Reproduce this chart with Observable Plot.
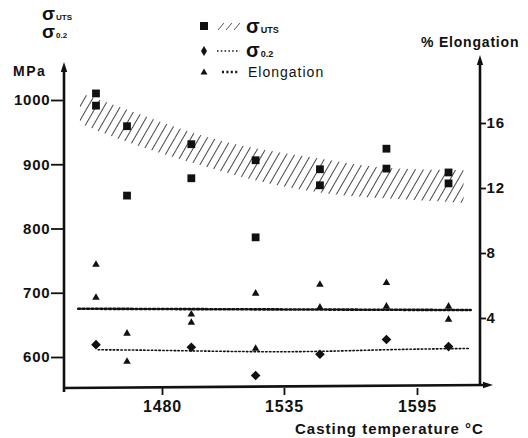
<!DOCTYPE html>
<html><head><meta charset="utf-8">
<script src="https://cdn.jsdelivr.net/npm/d3@7"></script>
<script src="https://cdn.jsdelivr.net/npm/@observablehq/plot@0.6"></script>
<style>
body{margin:0;background:#fff;}
#wrap{position:relative;width:528px;height:438px;font-family:"Liberation Sans",Arial,sans-serif;color:#111;}
#wrap svg{position:absolute;left:0;top:0;}
#wrap text{letter-spacing:0.8px;}
</style></head><body><div id="wrap"></div>
<script>
// ---- data ----
const temps      = [1450, 1464, 1493, 1522, 1551, 1581, 1609];
const utsHigh    = [1011, 960, 932, 907, 893, 925, 888];
const utsLow     = [992, 852, 879, 787, 868, 894, 871];
const yieldTemps = [1450, 1493, 1522, 1551, 1581, 1609];
const yieldVals  = [620, 616, 572, 605, 628, 617];
const elongHigh  = [7.32, 3.08, 4.25, 5.54, 6.09, 6.2, 4.74];
const elongLow   = [5.29, 1.35, 3.75, 2.15, 4.68, 4.74, 3.94];
const bandTemps  = [1443, 1465, 1493, 1522, 1551, 1580, 1616];
const bandUpper  = [1011, 984, 950, 925, 909, 895, 891];
const bandLower  = [964, 934, 903, 875, 856, 847, 840];
const yieldFitTemps = [1451, 1480, 1535, 1580, 1618];
const yieldFitVals  = [612, 611, 609, 612, 614];
const elongFitTemps = [1442, 1619];
const elongFitVals  = [4.6, 4.52];
const xTicks     = [1480, 1535, 1595];
const mpaTicks   = [600, 700, 800, 900, 1000];
const elongTicks = [4, 8, 12, 16];

// ---- tables ----
const uts = temps.flatMap((t, i) => [{t, v: utsHigh[i]}, {t, v: utsLow[i]}]);
const yieldPts = yieldTemps.map((t, i) => ({t, v: yieldVals[i]}));
const elongPts = temps.flatMap((t, i) => [{t, v: elongHigh[i]}, {t, v: elongLow[i]}]);
const band = bandTemps.map((t, i) => ({t, hi: bandUpper[i], lo: bandLower[i]}));
const yieldFit = yieldFitTemps.map((t, i) => ({t, v: yieldFitVals[i]}));
const elongFit = elongFitTemps.map((t, i) => ({t, v: elongFitVals[i]}));

const W = 528, H = 438;
const common = {width: W, height: H, marginLeft: 64, marginRight: 48, marginTop: 60, marginBottom: 50,
  style: {background: "transparent", fontFamily: "Liberation Sans, Arial, sans-serif", color: "#111", overflow: "visible"}};
const xOpt = {domain: [1480, 1595], range: [162, 417]};

const main = Plot.plot({
  ...common,
  x: xOpt,
  y: {domain: [600, 1000], range: [357, 100]},
  marks: [
    Plot.areaY(band, {x: "t", y1: "lo", y2: "hi", fill: "url(#hatch)", curve: "natural"}),
    Plot.line(yieldFit, {x: "t", y: "v", stroke: "#111", strokeWidth: 1.6, strokeDasharray: "1.5,2.3", curve: "natural"}),
    Plot.dot(uts, {x: "t", y: "v", symbol: "square", fill: "#111", r: 4.4}),
    Plot.dot(yieldPts, {x: "t", y: "v", symbol: "diamond2", fill: "#111", stroke: "#111", r: 3.4}),
    Plot.axisX({ticks: xTicks, label: null, tickSize: 7, tickPadding: 5, tickFormat: d => String(d), fontSize: 16, fontWeight: "bold", strokeWidth: 1.8}),
    Plot.axisY({anchor: "left", ticks: mpaTicks, label: null, tickSize: 13, tickPadding: 1, tickFormat: d => String(d), fontSize: 15, fontWeight: "bold", strokeWidth: 1.8})
  ]
});

const elong = Plot.plot({
  ...common,
  x: {...xOpt, axis: null},
  y: {domain: [4, 16], range: [318, 123]},
  marks: [
    Plot.line(elongFit, {x: "t", y: "v", stroke: "#111", strokeWidth: 2.6, strokeDasharray: "2,2.4"}),
    Plot.dot(elongPts, {x: "t", y: "v", symbol: "triangle", fill: "#111", r: 2.8}),
    Plot.axisY({anchor: "right", ticks: elongTicks, label: null, tickSize: 5, tickPadding: 1, tickFormat: d => String(d), fontSize: 15, fontWeight: "bold", strokeWidth: 1.8})
  ]
});

const wrap = document.getElementById("wrap");
wrap.appendChild(main);
wrap.appendChild(elong);

// hatch pattern
const svg = d3.select(main);
svg.insert("defs", ":first-child").append("pattern")
  .attr("id", "hatch").attr("patternUnits", "userSpaceOnUse")
  .attr("width", 7).attr("height", 12).attr("patternTransform", "rotate(30)")
  .append("line").attr("x1", 3.5).attr("x2", 3.5).attr("y1", 0).attr("y2", 12)
  .attr("stroke", "#333").attr("stroke-width", 0.9);

// axis lines with arrowheads
const ax = svg.append("g").attr("fill", "#111").attr("stroke", "#111");
ax.append("path").attr("d", "M64,392V70").attr("stroke-width", 2.6).attr("fill", "none");
ax.append("path").attr("d", "M64,62l-3.2,10h6.4z").attr("stroke", "none");
ax.append("path").attr("d", "M63,388L484,385").attr("stroke-width", 2.6).attr("fill", "none");
ax.append("path").attr("d", "M493,385l-10,-3.2v6.4z").attr("stroke", "none");
ax.append("path").attr("d", "M480,386V63").attr("stroke-width", 2.6).attr("fill", "none");
ax.append("path").attr("d", "M480,55l-3.2,10h6.4z").attr("stroke", "none");

// labels, title and legend
const ann = svg.append("g").attr("fill", "#111").attr("text-anchor", "start")
  .style("font-family", "Liberation Sans, Arial, sans-serif");
function sigma(x, y, sub, size, subSize) {
  const t = ann.append("text").attr("x", x).attr("y", y).style("font-weight", "bold").style("letter-spacing", "0px");
  t.append("tspan").style("font-size", size + "px").text("σ");
  t.append("tspan").style("font-size", subSize + "px").attr("dx", 1).text(sub);
}
sigma(42, 20, "UTS", 19, 8);
sigma(42, 38, "0.2", 19, 8);
ann.append("text").attr("x", 13).attr("y", 76).style("font-size", "14px").style("font-weight", "bold").style("letter-spacing", "1.5px").text("MPa");
ann.append("text").attr("x", 421).attr("y", 47).style("font-size", "14px").style("font-weight", "bold").text("% Elongation");
ann.append("text").attr("x", 295).attr("y", 434).style("font-size", "15px").style("font-weight", "bold").style("letter-spacing", "1px").text("Casting temperature °C");

// legend
ann.append("rect").attr("x", 200).attr("y", 22).attr("width", 8).attr("height", 8);
[[218, 30, 224, 23], [226, 30, 232, 23], [234, 30, 240, 23]].forEach(([x1, y1, x2, y2]) =>
  ann.append("line").attr("x1", x1).attr("y1", y1).attr("x2", x2).attr("y2", y2).attr("stroke", "#444").attr("stroke-width", 0.9));
sigma(246, 33, "UTS", 20, 9);
ann.append("path").attr("d", "M204,46l3,5l-3,5l-3,-5z");
ann.append("line").attr("x1", 217).attr("x2", 240).attr("y1", 51).attr("y2", 51).attr("stroke", "#111").attr("stroke-width", 1.4).attr("stroke-dasharray", "1.5,2.3");
sigma(246, 57, "0.2", 20, 9);
ann.append("path").attr("d", "M204,68.5l3.5,6h-7z");
ann.append("line").attr("x1", 222).attr("x2", 238).attr("y1", 72).attr("y2", 72).attr("stroke", "#111").attr("stroke-width", 2.6).attr("stroke-dasharray", "2,2.4");
ann.append("text").attr("x", 248).attr("y", 77).style("font-size", "14px").style("letter-spacing", "1px").text("Elongation");
</script></body></html>
